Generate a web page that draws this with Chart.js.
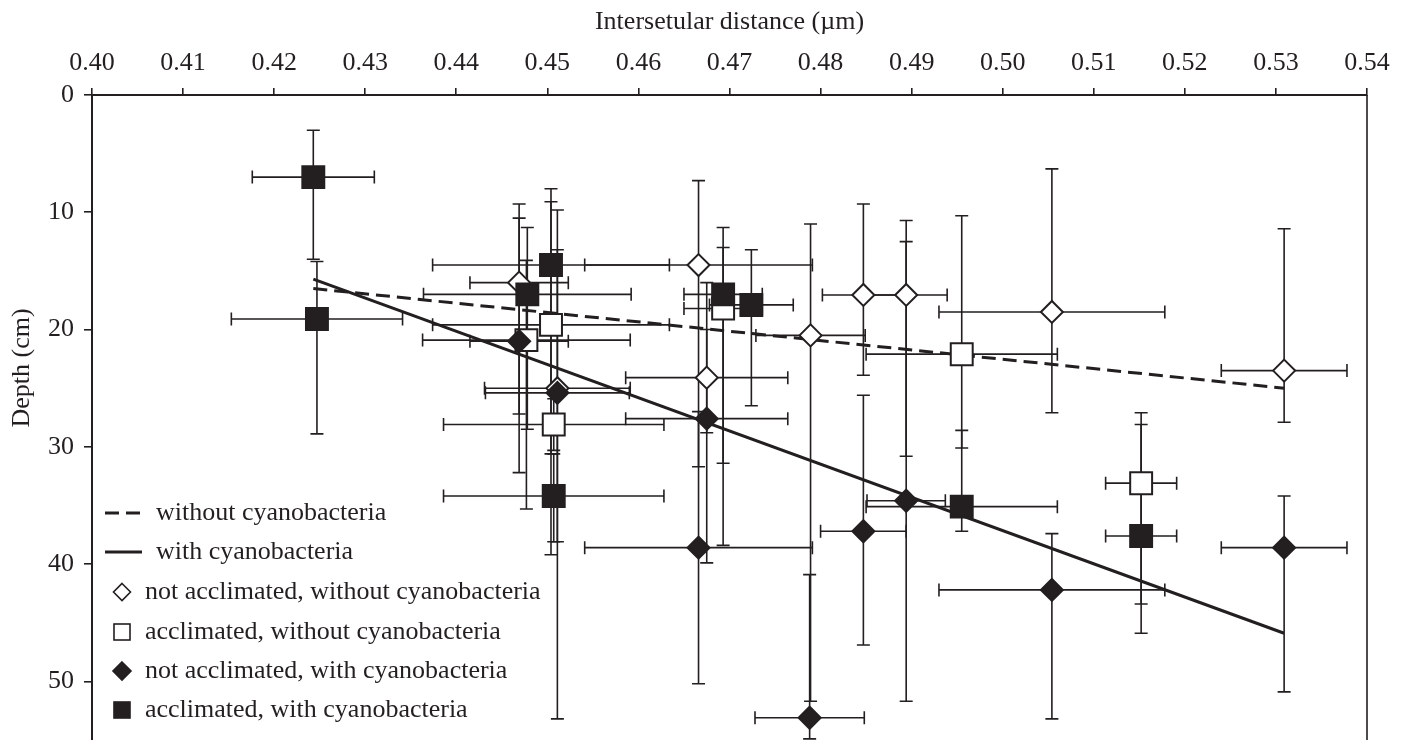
<!DOCTYPE html>
<html>
<head>
<meta charset="utf-8">
<script src="https://cdn.jsdelivr.net/npm/chart.js@4.4.1/dist/chart.umd.min.js"></script>
<style>
  html, body { margin: 0; background: #fff; }
</style>
</head>
<body>
<canvas id="chart" width="1411" height="740"></canvas>
<script>
// axis values
const xMin = 0.40, xMax = 0.54, xStep = 0.01;
const yMin = 0, yMax = 55, yStep = 10;

// not acclimated, without cyanobacteria (open diamonds)
const naWoX    = [0.4469, 0.4511, 0.4666, 0.4675, 0.4789, 0.4847, 0.4894, 0.5054, 0.5309];
const naWoY    = [16.0, 25.0, 14.5, 24.1, 20.5, 17.05, 17.05, 18.5, 23.5];
const naWoXErr = [0.0054, 0.008, 0.0125, 0.0089, 0.006, 0.0045, 0.0045, 0.0124, 0.0069];
const naWoYTop = [9.3, 13.2, 7.3, 20.0, 11.0, 9.3, 10.7, 6.3, 11.4];
const naWoYBot = [27.2, 38.1, 31.7, 28.8, 51.7, 23.9, 30.8, 27.1, 27.9];

// not acclimated, with cyanobacteria (filled diamonds)
const naWiX    = [0.4469, 0.4511, 0.4666, 0.4675, 0.4788, 0.4847, 0.4894, 0.5054, 0.5309];
const naWiY    = [21.0, 25.4, 38.6, 27.6, 53.1, 37.2, 34.6, 42.2, 38.6];
const naWiXErr = [0.0054, 0.0079, 0.0125, 0.0089, 0.006, 0.0047, 0.0043, 0.0124, 0.0069];
const naWiYTop = [10.5, 9.8, 27.0, 16.0, 40.9, 25.6, 12.5, 37.4, 34.2];
const naWiYBot = [32.2, 53.2, 50.2, 39.9, 54.9, 46.9, 51.7, 53.2, 50.9];

// acclimated, without cyanobacteria (open squares)
const acWoX    = [0.4477, 0.4504, 0.4507, 0.4693, 0.4955, 0.5152];
const acWoY    = [20.9, 19.6, 28.1, 18.2, 22.1, 33.1];
const acWoXErr = [0.0114, 0.013, 0.0121, 0.0043, 0.0105, 0.0039];
const acWoYTop = [14.1, 9.1, 25.9, 13.0, 10.3, 27.1];
const acWoYBot = [35.3, 30.6, 30.3, 31.4, 30.1, 43.4];

// acclimated, with cyanobacteria (filled squares)
const acWiX    = [0.4243, 0.4247, 0.4478, 0.4504, 0.4507, 0.4693, 0.4724, 0.4955, 0.5152];
const acWiY    = [7.0, 19.1, 17.0, 14.5, 34.2, 17.0, 17.9, 35.1, 37.6];
const acWiXErr = [0.0067, 0.0094, 0.0114, 0.013, 0.0121, 0.0043, 0.0046, 0.0105, 0.0039];
const acWiYTop = [3.0, 14.2, 11.3, 8.0, 30.6, 11.3, 13.2, 28.6, 28.1];
const acWiYBot = [14.0, 28.9, 28.5, 39.2, 38.1, 38.4, 26.5, 37.2, 45.9];

// trend lines
const trendX       = [0.4243, 0.5309];
const trendWithout = [16.5, 25.0];
const trendWith    = [15.7, 45.9];

const legendLabels = [
    'without cyanobacteria',
    'with cyanobacteria',
    'not acclimated, without cyanobacteria',
    'acclimated, without cyanobacteria',
    'not acclimated, with cyanobacteria',
    'acclimated, with cyanobacteria'
];

const ink = '#231f20';
const serif = '"Liberation Serif", "Times New Roman", serif';

function pts(xs, ys) {
    return xs.map((v, i) => ({ x: v, y: ys[i] }));
}

const series = [
    { x: naWoX, y: naWoY, xErr: naWoXErr, top: naWoYTop, bot: naWoYBot },
    { x: naWiX, y: naWiY, xErr: naWiXErr, top: naWiYTop, bot: naWiYBot },
    { x: acWoX, y: acWoY, xErr: acWoXErr, top: acWoYTop, bot: acWoYBot },
    { x: acWiX, y: acWiY, xErr: acWiXErr, top: acWiYTop, bot: acWiYBot }
];

// error bars under the markers
const errorBars = {
    id: 'errorBars',
    beforeDatasetsDraw(chart) {
        const { ctx, chartArea: a, scales: { x, y } } = chart;
        const cap = 6.5;
        ctx.save();
        ctx.beginPath();
        ctx.rect(a.left, a.top, a.right - a.left, a.bottom - a.top);
        ctx.clip();
        ctx.strokeStyle = ink;
        ctx.lineWidth = 1.6;
        series.forEach(s => {
            s.x.forEach((v, i) => {
                const px = x.getPixelForValue(v);
                const py = y.getPixelForValue(s.y[i]);
                const xl = x.getPixelForValue(v - s.xErr[i]);
                const xr = x.getPixelForValue(v + s.xErr[i]);
                const yt = y.getPixelForValue(s.top[i]);
                const yb = y.getPixelForValue(s.bot[i]);
                ctx.beginPath();
                ctx.moveTo(xl, py); ctx.lineTo(xr, py);
                ctx.moveTo(xl, py - cap); ctx.lineTo(xl, py + cap);
                ctx.moveTo(xr, py - cap); ctx.lineTo(xr, py + cap);
                ctx.moveTo(px, yt); ctx.lineTo(px, yb);
                ctx.moveTo(px - cap, yt); ctx.lineTo(px + cap, yt);
                ctx.moveTo(px - cap, yb); ctx.lineTo(px + cap, yb);
                ctx.stroke();
            });
        });
        ctx.restore();
    }
};

function diamond(ctx, cx, cy, r, filled) {
    ctx.beginPath();
    ctx.moveTo(cx, cy - r); ctx.lineTo(cx + r, cy); ctx.lineTo(cx, cy + r); ctx.lineTo(cx - r, cy);
    ctx.closePath();
    ctx.fillStyle = filled ? ink : '#fff';
    ctx.fill();
    ctx.stroke();
}

function square(ctx, cx, cy, h, filled) {
    ctx.fillStyle = filled ? ink : '#fff';
    ctx.fillRect(cx - h, cy - h, 2 * h, 2 * h);
    ctx.strokeRect(cx - h, cy - h, 2 * h, 2 * h);
}

// legend in the lower left corner, y-axis title, right frame line
const extras = {
    id: 'extras',
    afterDraw(chart) {
        const { ctx, chartArea: a } = chart;
        ctx.save();
        ctx.strokeStyle = ink;
        ctx.lineWidth = 1.6;
        ctx.beginPath();
        ctx.moveTo(a.right, a.top); ctx.lineTo(a.right, a.bottom);
        ctx.stroke();

        ctx.fillStyle = ink;
        ctx.font = '26px ' + serif;
        ctx.textBaseline = 'middle';
        ctx.textAlign = 'left';

        const rows = [513, 552, 592, 632, 671, 710];
        ctx.lineWidth = 3;
        ctx.setLineDash([14, 7]);
        ctx.beginPath(); ctx.moveTo(105, rows[0]); ctx.lineTo(142, rows[0]); ctx.stroke();
        ctx.setLineDash([]);
        ctx.beginPath(); ctx.moveTo(105, rows[1]); ctx.lineTo(142, rows[1]); ctx.stroke();

        ctx.lineWidth = 1.6;
        diamond(ctx, 122, rows[2], 8.5, false);
        square(ctx, 122, rows[3], 8, false);
        diamond(ctx, 122, rows[4], 9, true);
        square(ctx, 122, rows[5], 8, true);

        ctx.fillStyle = ink;
        ctx.fillText(legendLabels[0], 156, rows[0]);
        ctx.fillText(legendLabels[1], 156, rows[1]);
        for (let i = 2; i < 6; i++) ctx.fillText(legendLabels[i], 145, rows[i]);

        ctx.translate(22, 368);
        ctx.rotate(-Math.PI / 2);
        ctx.textAlign = 'center';
        ctx.font = '26px ' + serif;
        ctx.fillText('Depth (cm)', 0, 0);
        ctx.restore();
    }
};

Chart.defaults.font.family = serif;
Chart.defaults.font.size = 26;
Chart.defaults.color = ink;

new Chart(document.getElementById('chart'), {
    type: 'scatter',
    data: {
        datasets: [
            {
                type: 'line', label: 'without cyanobacteria', data: pts(trendX, trendWithout),
                borderColor: ink, borderWidth: 3, borderDash: [14, 7], pointRadius: 0, order: 10
            },
            {
                type: 'line', label: 'with cyanobacteria', data: pts(trendX, trendWith),
                borderColor: ink, borderWidth: 3, pointRadius: 0, order: 10
            },
            {
                label: legendLabels[2], data: pts(naWoX, naWoY), pointStyle: 'rectRot', pointRadius: 11,
                backgroundColor: '#fff', borderColor: ink, borderWidth: 2, order: 3
            },
            {
                label: legendLabels[3], data: pts(acWoX, acWoY), pointStyle: 'rect', pointRadius: 15.5,
                backgroundColor: '#fff', borderColor: ink, borderWidth: 2, order: 2
            },
            {
                label: legendLabels[4], data: pts(naWiX, naWiY), pointStyle: 'rectRot', pointRadius: 11,
                backgroundColor: ink, borderColor: ink, borderWidth: 2, order: 1
            },
            {
                label: legendLabels[5], data: pts(acWiX, acWiY), pointStyle: 'rect', pointRadius: 15.5,
                backgroundColor: ink, borderColor: ink, borderWidth: 2, order: 0
            }
        ]
    },
    options: {
        responsive: false,
        animation: false,
        devicePixelRatio: 1,
        layout: { autoPadding: false, padding: { left: 0, top: 0, right: 44, bottom: 0 } },
        plugins: { legend: { display: false }, tooltip: { enabled: false } },
        scales: {
            x: {
                type: 'linear', position: 'top', min: xMin, max: xMax,
                afterFit: s => { s.height = 95; s.paddingLeft = 0; s.paddingRight = 0; },
                ticks: { stepSize: xStep, maxTicksLimit: 30, padding: 9, callback: v => v.toFixed(2) },
                grid: { drawOnChartArea: false, drawTicks: true, tickLength: 7, color: ink, lineWidth: 1.6 },
                border: { display: true, color: ink, width: 2 },
                title: { display: true, text: 'Intersetular distance (\u00b5m)', font: { size: 26 }, padding: { top: 7, bottom: 0 } }
            },
            y: {
                type: 'linear', reverse: true, min: yMin, max: yMax,
                afterFit: s => { s.width = 92; s.paddingTop = 0; s.paddingBottom = 0; },
                afterBuildTicks: s => { s.ticks = s.ticks.filter(t => t.value % yStep === 0); },
                ticks: { stepSize: yStep, padding: 10 },
                grid: { drawOnChartArea: false, drawTicks: true, tickLength: 8, color: ink, lineWidth: 1.6 },
                border: { display: true, color: ink, width: 2 }
            }
        }
    },
    plugins: [errorBars, extras]
});
</script>
</body>
</html>
